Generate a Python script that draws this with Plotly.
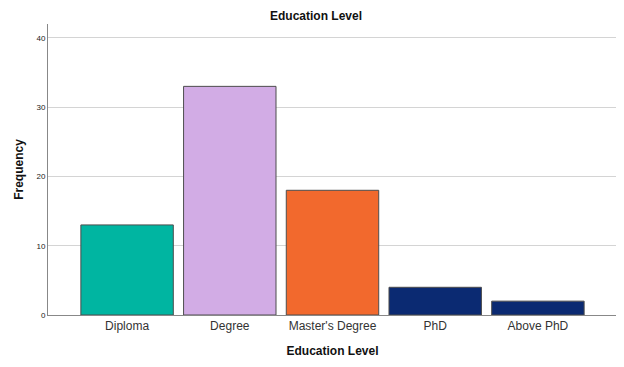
import plotly.graph_objects as go

categories = ["Diploma", "Degree", "Master's Degree", "PhD", "Above PhD"]
frequency = [13, 33, 18, 4, 2]
bar_colors = ["#00b5a1", "#d2ace5", "#f2692d", "#0b2a72", "#0b2a72"]
y_ticks = [0, 10, 20, 30, 40]

fig = go.Figure(go.Bar(
    x=categories, y=frequency,
    marker=dict(color=bar_colors, line=dict(color="#4d4d4d", width=1)),
    width=0.9,
))

W, H = 616, 359
fig.update_layout(
    width=W, height=H,
    margin=dict(l=40, r=7, t=16, b=52, autoexpand=False),
    paper_bgcolor="white", plot_bgcolor="white",
    font=dict(family="Liberation Sans, Arial, sans-serif", color="#222"),
    title=dict(text="<b>Education Level</b>", x=0.5, xanchor="center", y=1 - 7.5 / H, yanchor="middle",
               font=dict(size=12, color="#111")),
    showlegend=False,
    bargap=0.1,
)
fig.update_xaxes(
    range=[-0.77, 4.77], automargin=False,
    showline=True, linecolor="#888", linewidth=1,
    ticks="", tickfont=dict(size=12, color="#333"),
    title=dict(text="<b>Education Level</b>", font=dict(size=12, color="#111"), standoff=14),
)
fig.update_yaxes(
    range=[0, 42], tickvals=y_ticks, automargin=False,
    showline=True, linecolor="#888", linewidth=1,
    showgrid=True, gridcolor="#d4d4d4", gridwidth=1,
    ticks="", tickfont=dict(size=8, color="#222"),
    zeroline=False,
    title=dict(text="<b>Frequency</b>", font=dict(size=12, color="#111"), standoff=10),
)

fig.write_html("out.html")
